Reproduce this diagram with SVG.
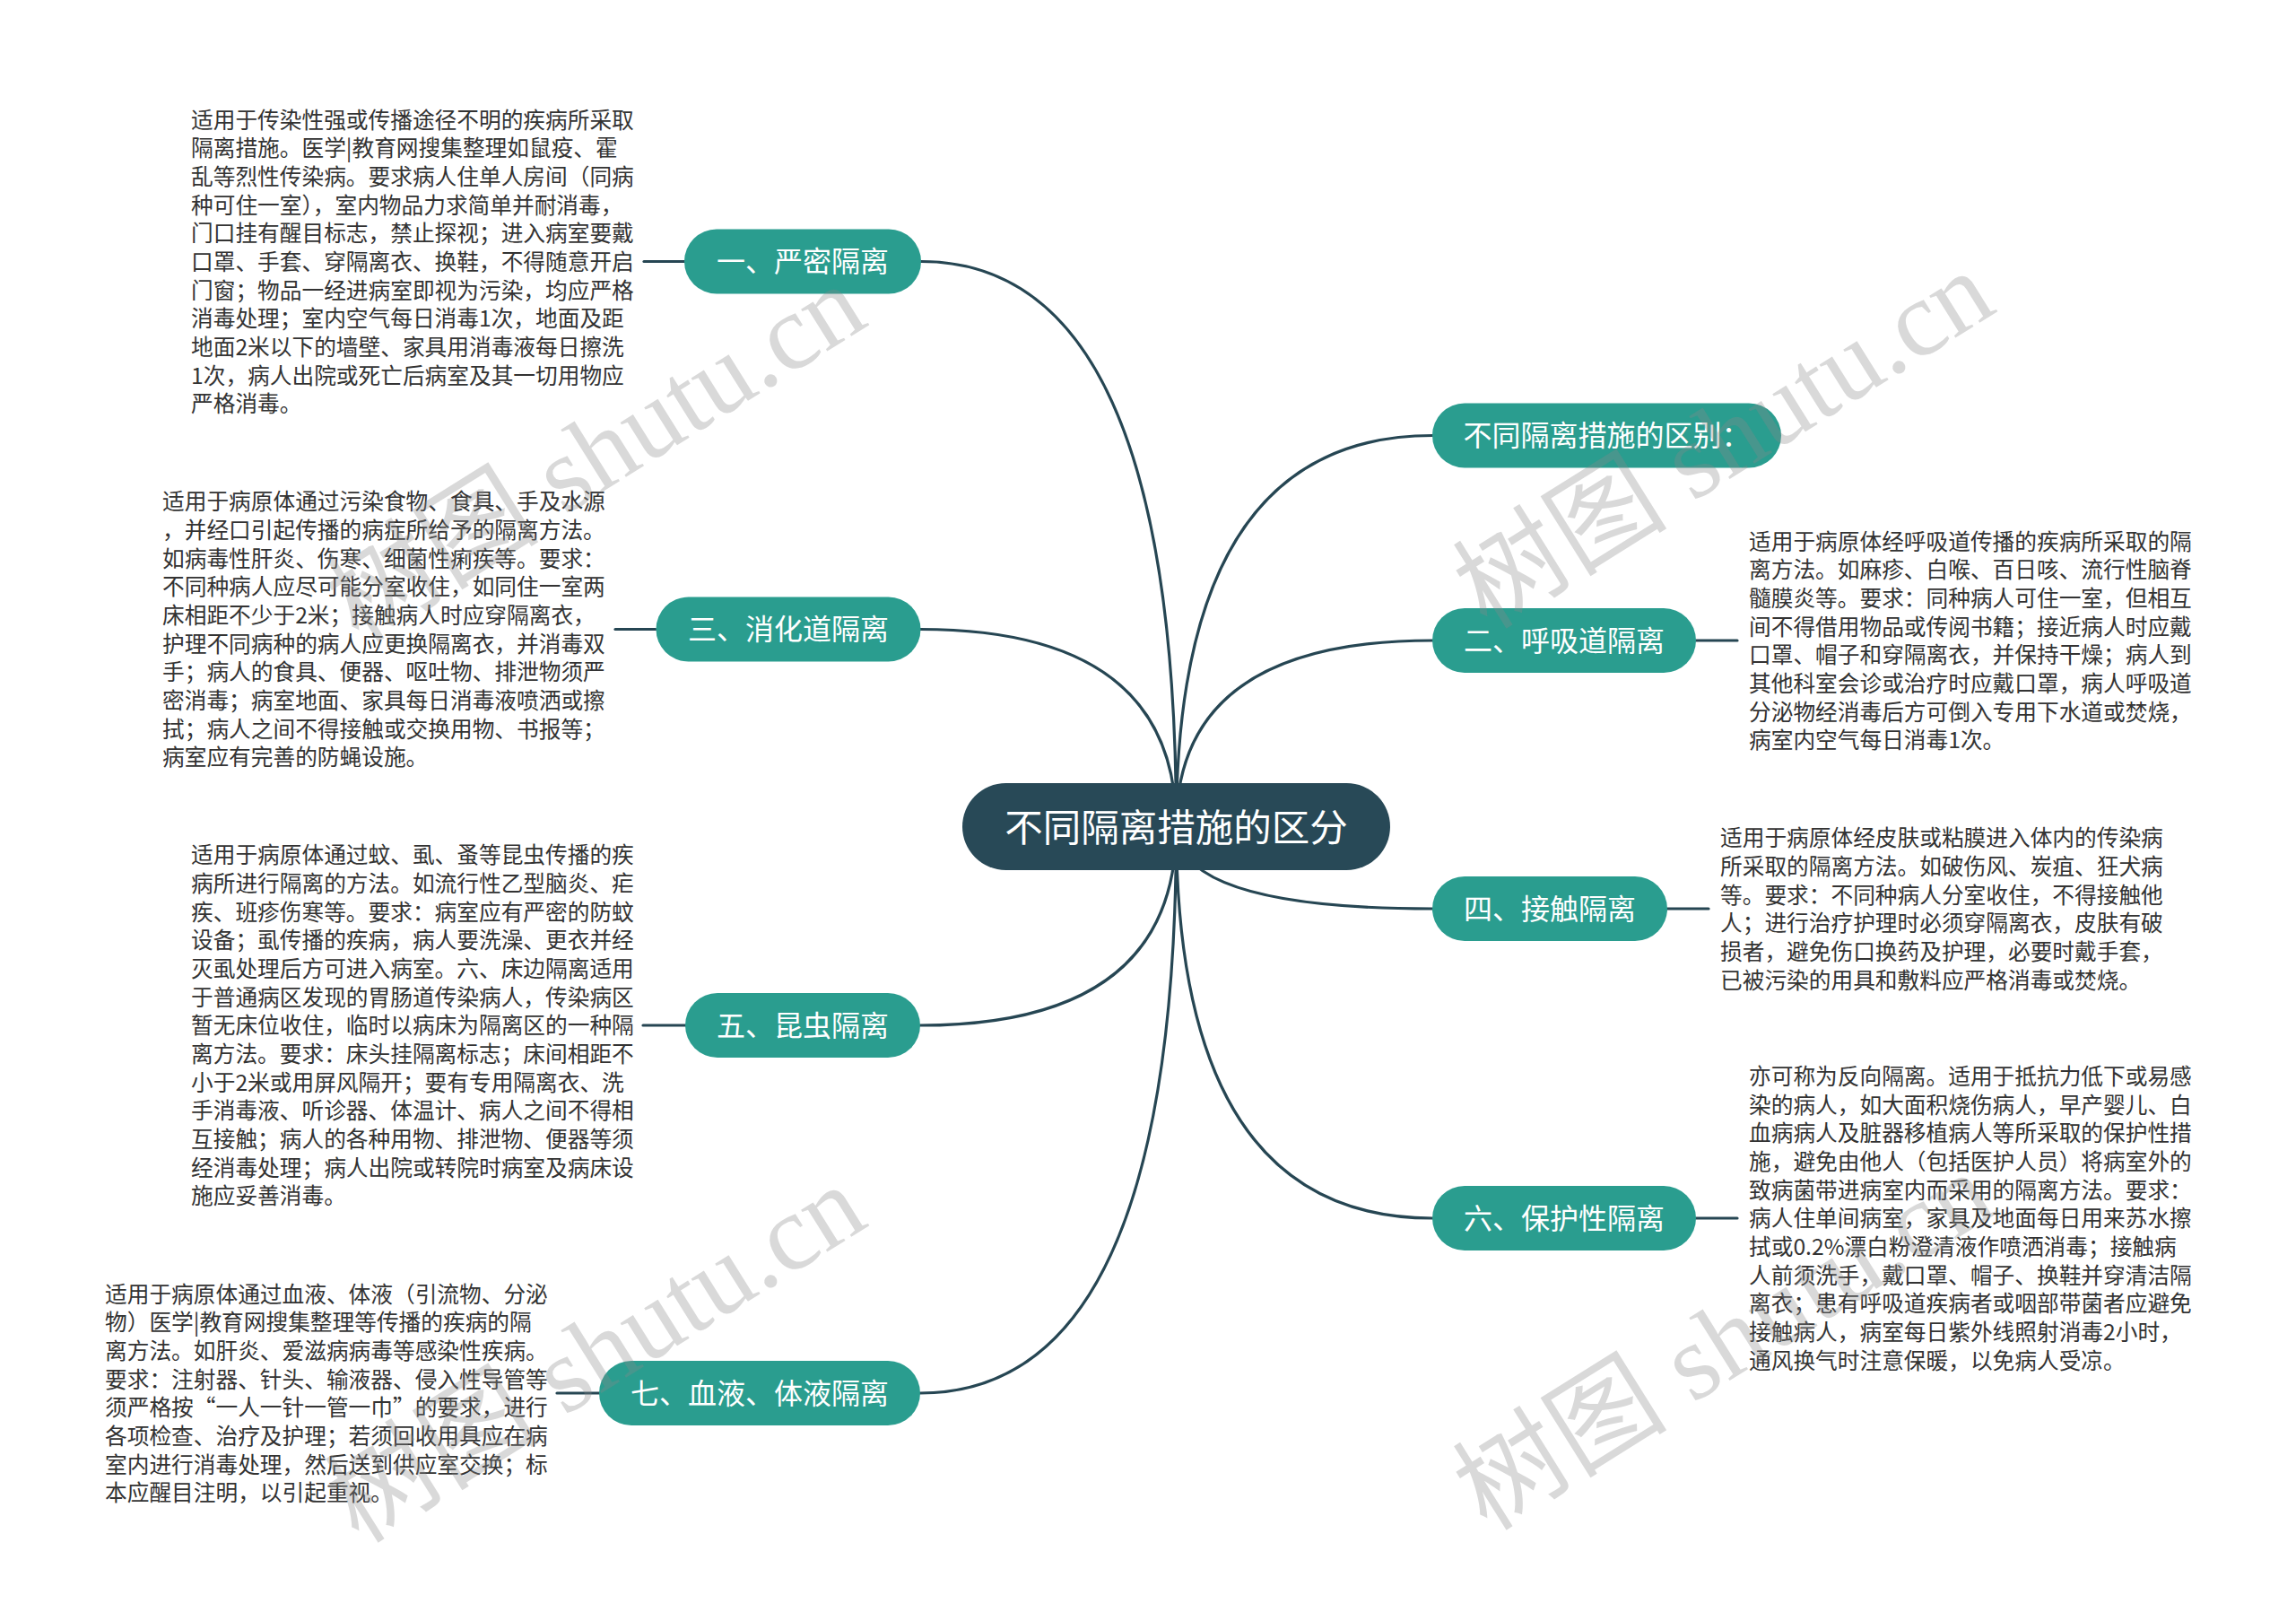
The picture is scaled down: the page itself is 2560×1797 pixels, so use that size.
<svg xmlns="http://www.w3.org/2000/svg" width="2560" height="1797" viewBox="0 0 2560 1797">
<style>
.bg{fill:#ffffff}
.link{fill:none;stroke:#264653;stroke-width:3.2;stroke-linecap:round}
.node rect{fill:#2a9d8f}
.node text{fill:#ffffff;font-family:"Noto Sans CJK SC","Noto Sans",sans-serif;font-size:32px;text-anchor:middle}
.root rect{fill:#284957}
.root text{fill:#ffffff;font-family:"Noto Sans CJK SC","Noto Sans",sans-serif;font-size:42.5px;text-anchor:middle}
.desc{fill:#333333;font-family:"Noto Sans CJK SC","Noto Sans",sans-serif;font-size:24.7px}
.wm{fill:#8a8a8a;fill-opacity:0.32;font-family:"Liberation Serif","Noto Sans CJK SC",serif;font-size:120px}
</style>
<rect class="bg" x="0" y="0" width="2560" height="1797"/>

<g id="connectors">
  <path class="link" d="M1311.5 921.5 Q1311.5 291.5 1027 291.5"/>
  <path class="link" d="M1311.5 921.5 Q1311.5 485.5 1597 485.5"/>
  <path class="link" d="M1311.5 921.5 Q1311.5 714 1597 714"/>
  <path class="link" d="M1311.5 921.5 Q1311.5 701.5 1026 701.5"/>
  <path class="link" d="M1311.5 921.5 Q1311.5 1013 1597 1013"/>
  <path class="link" d="M1311.5 921.5 Q1311.5 1143 1026 1143"/>
  <path class="link" d="M1311.5 921.5 Q1311.5 1358 1597 1358"/>
  <path class="link" d="M1311.5 921.5 Q1311.5 1553 1026 1553"/>
  <path class="link" d="M718 291.5 H763"/>
  <path class="link" d="M686 701.5 H731"/>
  <path class="link" d="M717 1143 H764"/>
  <path class="link" d="M621 1553 H668"/>
  <path class="link" d="M1891 714 H1937"/>
  <path class="link" d="M1859 1013 H1905"/>
  <path class="link" d="M1891 1358 H1937"/>
</g>

<g id="root" class="root">
  <rect x="1073" y="873" width="477" height="97" rx="48.5"/>
  <text x="1311.5" y="937.5">不同隔离措施的区分</text>
</g>

<g id="node-yanmi" class="node">
  <rect x="763" y="255.5" width="264" height="72" rx="36"/>
  <text x="895" y="303">一、严密隔离</text>
</g>
<g id="node-qubie" class="node">
  <rect x="1597" y="449.5" width="389" height="72" rx="36"/>
  <text x="1791.5" y="497">不同隔离措施的区别：</text>
</g>
<g id="node-huxidao" class="node">
  <rect x="1597" y="678" width="294" height="72" rx="36"/>
  <text x="1744" y="725.5">二、呼吸道隔离</text>
</g>
<g id="node-xiaohuadao" class="node">
  <rect x="731.5" y="665.5" width="295" height="72" rx="36"/>
  <text x="879" y="713">三、消化道隔离</text>
</g>
<g id="node-jiechu" class="node">
  <rect x="1597" y="977" width="262" height="72" rx="36"/>
  <text x="1728" y="1024.5">四、接触隔离</text>
</g>
<g id="node-kunchong" class="node">
  <rect x="764" y="1107" width="262" height="72" rx="36"/>
  <text x="895" y="1154.5">五、昆虫隔离</text>
</g>
<g id="node-baohuxing" class="node">
  <rect x="1597" y="1322" width="294" height="72" rx="36"/>
  <text x="1744" y="1369.5">六、保护性隔离</text>
</g>
<g id="node-xueye" class="node">
  <rect x="668" y="1517" width="358" height="72" rx="36"/>
  <text x="847" y="1564.5">七、血液、体液隔离</text>
</g>

<g id="desc-yanmi">
  <text class="desc" x="213" y="142.5">
    <tspan x="213">适用于传染性强或传播途径不明的疾病所采取</tspan>
    <tspan x="213" dy="31.67">隔离措施。医学|教育网搜集整理如鼠疫、霍</tspan>
    <tspan x="213" dy="31.67">乱等烈性传染病。要求病人住单人房间（同病</tspan>
    <tspan x="213" dy="31.67">种可住一室），室内物品力求简单并耐消毒，</tspan>
    <tspan x="213" dy="31.67">门口挂有醒目标志，禁止探视；进入病室要戴</tspan>
    <tspan x="213" dy="31.67">口罩、手套、穿隔离衣、换鞋，不得随意开启</tspan>
    <tspan x="213" dy="31.67">门窗；物品一经进病室即视为污染，均应严格</tspan>
    <tspan x="213" dy="31.67">消毒处理；室内空气每日消毒1次，地面及距</tspan>
    <tspan x="213" dy="31.67">地面2米以下的墙壁、家具用消毒液每日擦洗</tspan>
    <tspan x="213" dy="31.67">1次，病人出院或死亡后病室及其一切用物应</tspan>
    <tspan x="213" dy="31.67">严格消毒。</tspan>
  </text>
</g>
<g id="desc-xiaohuadao">
  <text class="desc" x="181" y="568.4">
    <tspan x="181">适用于病原体通过污染食物、食具、手及水源</tspan>
    <tspan x="181" dy="31.67">，并经口引起传播的病症所给予的隔离方法。</tspan>
    <tspan x="181" dy="31.67">如病毒性肝炎、伤寒、细菌性痢疾等。要求：</tspan>
    <tspan x="181" dy="31.67">不同种病人应尽可能分室收住，如同住一室两</tspan>
    <tspan x="181" dy="31.67">床相距不少于2米；接触病人时应穿隔离衣，</tspan>
    <tspan x="181" dy="31.67">护理不同病种的病人应更换隔离衣，并消毒双</tspan>
    <tspan x="181" dy="31.67">手；病人的食具、便器、呕吐物、排泄物须严</tspan>
    <tspan x="181" dy="31.67">密消毒；病室地面、家具每日消毒液喷洒或擦</tspan>
    <tspan x="181" dy="31.67">拭；病人之间不得接触或交换用物、书报等；</tspan>
    <tspan x="181" dy="31.67">病室应有完善的防蝇设施。</tspan>
  </text>
</g>
<g id="desc-kunchong">
  <text class="desc" x="213" y="962.4">
    <tspan x="213">适用于病原体通过蚊、虱、蚤等昆虫传播的疾</tspan>
    <tspan x="213" dy="31.67">病所进行隔离的方法。如流行性乙型脑炎、疟</tspan>
    <tspan x="213" dy="31.67">疾、班疹伤寒等。要求：病室应有严密的防蚊</tspan>
    <tspan x="213" dy="31.67">设备；虱传播的疾病，病人要洗澡、更衣并经</tspan>
    <tspan x="213" dy="31.67">灭虱处理后方可进入病室。六、床边隔离适用</tspan>
    <tspan x="213" dy="31.67">于普通病区发现的胃肠道传染病人，传染病区</tspan>
    <tspan x="213" dy="31.67">暂无床位收住，临时以病床为隔离区的一种隔</tspan>
    <tspan x="213" dy="31.67">离方法。要求：床头挂隔离标志；床间相距不</tspan>
    <tspan x="213" dy="31.67">小于2米或用屏风隔开；要有专用隔离衣、洗</tspan>
    <tspan x="213" dy="31.67">手消毒液、听诊器、体温计、病人之间不得相</tspan>
    <tspan x="213" dy="31.67">互接触；病人的各种用物、排泄物、便器等须</tspan>
    <tspan x="213" dy="31.67">经消毒处理；病人出院或转院时病室及病床设</tspan>
    <tspan x="213" dy="31.67">施应妥善消毒。</tspan>
  </text>
</g>
<g id="desc-xueye">
  <text class="desc" x="117" y="1451.6">
    <tspan x="117">适用于病原体通过血液、体液（引流物、分泌</tspan>
    <tspan x="117" dy="31.67">物）医学|教育网搜集整理等传播的疾病的隔</tspan>
    <tspan x="117" dy="31.67">离方法。如肝炎、爱滋病病毒等感染性疾病。</tspan>
    <tspan x="117" dy="31.67">要求：注射器、针头、输液器、侵入性导管等</tspan>
    <tspan x="117" dy="31.67">须严格按“一人一针一管一巾”的要求，进行</tspan>
    <tspan x="117" dy="31.67">各项检查、治疗及护理；若须回收用具应在病</tspan>
    <tspan x="117" dy="31.67">室内进行消毒处理，然后送到供应室交换；标</tspan>
    <tspan x="117" dy="31.67">本应醒目注明，以引起重视。</tspan>
  </text>
</g>
<g id="desc-huxidao">
  <text class="desc" x="1950" y="612.6">
    <tspan x="1950">适用于病原体经呼吸道传播的疾病所采取的隔</tspan>
    <tspan x="1950" dy="31.67">离方法。如麻疹、白喉、百日咳、流行性脑脊</tspan>
    <tspan x="1950" dy="31.67">髓膜炎等。要求：同种病人可住一室，但相互</tspan>
    <tspan x="1950" dy="31.67">间不得借用物品或传阅书籍；接近病人时应戴</tspan>
    <tspan x="1950" dy="31.67">口罩、帽子和穿隔离衣，并保持干燥；病人到</tspan>
    <tspan x="1950" dy="31.67">其他科室会诊或治疗时应戴口罩，病人呼吸道</tspan>
    <tspan x="1950" dy="31.67">分泌物经消毒后方可倒入专用下水道或焚烧，</tspan>
    <tspan x="1950" dy="31.67">病室内空气每日消毒1次。</tspan>
  </text>
</g>
<g id="desc-jiechu">
  <text class="desc" x="1918" y="943.2">
    <tspan x="1918">适用于病原体经皮肤或粘膜进入体内的传染病</tspan>
    <tspan x="1918" dy="31.67">所采取的隔离方法。如破伤风、炭疽、狂犬病</tspan>
    <tspan x="1918" dy="31.67">等。要求：不同种病人分室收住，不得接触他</tspan>
    <tspan x="1918" dy="31.67">人；进行治疗护理时必须穿隔离衣，皮肤有破</tspan>
    <tspan x="1918" dy="31.67">损者，避免伤口换药及护理，必要时戴手套，</tspan>
    <tspan x="1918" dy="31.67">已被污染的用具和敷料应严格消毒或焚烧。</tspan>
  </text>
</g>
<g id="desc-baohuxing">
  <text class="desc" x="1950" y="1209.1">
    <tspan x="1950">亦可称为反向隔离。适用于抵抗力低下或易感</tspan>
    <tspan x="1950" dy="31.67">染的病人，如大面积烧伤病人，早产婴儿、白</tspan>
    <tspan x="1950" dy="31.67">血病病人及脏器移植病人等所采取的保护性措</tspan>
    <tspan x="1950" dy="31.67">施，避免由他人（包括医护人员）将病室外的</tspan>
    <tspan x="1950" dy="31.67">致病菌带进病室内而采用的隔离方法。要求：</tspan>
    <tspan x="1950" dy="31.67">病人住单间病室，家具及地面每日用来苏水擦</tspan>
    <tspan x="1950" dy="31.67">拭或0.2%漂白粉澄清液作喷洒消毒；接触病</tspan>
    <tspan x="1950" dy="31.67">人前须洗手，戴口罩、帽子、换鞋并穿清洁隔</tspan>
    <tspan x="1950" dy="31.67">离衣；患有呼吸道疾病者或咽部带菌者应避免</tspan>
    <tspan x="1950" dy="31.67">接触病人，病室每日紫外线照射消毒2小时，</tspan>
    <tspan x="1950" dy="31.67">通风换气时注意保暖，以免病人受凉。</tspan>
  </text>
</g>

<g id="watermark">
  <text class="wm" transform="translate(400 718) rotate(-32)">树图 shutu.cn</text>
  <text class="wm" transform="translate(1658 703) rotate(-32)">树图 shutu.cn</text>
  <text class="wm" transform="translate(400 1722) rotate(-32)">树图 shutu.cn</text>
  <text class="wm" transform="translate(1658 1708) rotate(-32)">树图 shutu.cn</text>
</g>
</svg>
